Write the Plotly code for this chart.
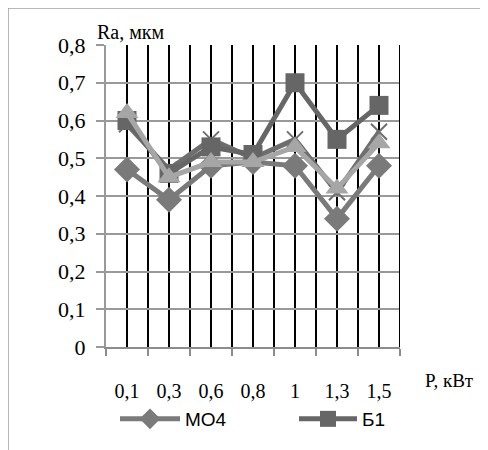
import plotly.graph_objects as go

categories = ["0,1", "0,3", "0,6", "0,8", "1", "1,3", "1,5"]
mo4 = [0.47, 0.39, 0.48, 0.49, 0.48, 0.34, 0.48]
b1 = [0.60, 0.46, 0.53, 0.51, 0.70, 0.55, 0.64]
s3 = [0.59, 0.47, 0.55, 0.50, 0.55, 0.41, 0.57]
s4 = [0.62, 0.45, 0.49, 0.49, 0.53, 0.42, 0.54]
y_ticks = [0, 0.1, 0.2, 0.3, 0.4, 0.5, 0.6, 0.7, 0.8]
y_labels = ["0", "0,1", "0,2", "0,3", "0,4", "0,5", "0,6", "0,7", "0,8"]

xs = list(range(len(categories)))
SERIF = "Liberation Serif, Times New Roman, serif"

# page offset (body margin 8px): plot area in page coords x 106..400, y 45..347
L, T, PW, PH = 98, 37, 294, 302

fig = go.Figure()
fig.add_trace(go.Scatter(x=xs, y=s3, mode="lines+markers", name="s3", showlegend=False,
                         line=dict(color="#6e6e6e", width=5),
                         marker=dict(symbol="x-thin", size=16, line=dict(color="#6e6e6e", width=2))))
fig.add_trace(go.Scatter(x=xs, y=mo4, mode="lines+markers", name="МО4", legend="legend",
                         line=dict(color="#7a7a7a", width=5),
                         marker=dict(symbol="diamond", size=20, color="#7a7a7a")))
fig.add_trace(go.Scatter(x=xs, y=b1, mode="lines+markers", name="Б1", legend="legend2",
                         line=dict(color="#666666", width=5),
                         marker=dict(symbol="square", size=19, color="#666666")))
fig.add_trace(go.Scatter(x=xs, y=s4, mode="lines+markers", name="s4", showlegend=False,
                         line=dict(color="#a6a6a6", width=5),
                         marker=dict(symbol="triangle-up", size=20, color="#a6a6a6")))


def px(xp):
    return (xp - 106) / PW


def py(yp):
    return (347 - yp) / PH


leg_font = dict(family="Liberation Sans, Arial, sans-serif", size=19, color="black")
fig.update_layout(
    width=488, height=450,
    margin=dict(l=L, r=488 - L - PW, t=T, b=450 - T - PH, autoexpand=False),
    paper_bgcolor="white", plot_bgcolor="white",
    font=dict(family=SERIF, color="black"),
    legend=dict(orientation="h", x=px(115), y=py(419), xanchor="left", yanchor="middle",
                font=leg_font, bgcolor="rgba(0,0,0,0)", itemwidth=60),
    legend2=dict(orientation="h", x=px(294), y=py(419), xanchor="left", yanchor="middle",
                 font=leg_font, bgcolor="rgba(0,0,0,0)", itemwidth=58),
    xaxis=dict(range=[-0.5, 6.5], tickvals=xs, ticktext=categories,
               showgrid=True, gridcolor="black", gridwidth=2,
               ticks="", tickfont=dict(family=SERIF, size=20),
               ticklabelstandoff=25,
               showline=True, linecolor="#8c8c8c", linewidth=2, mirror=False,
               zeroline=False,
               minor=dict(tick0=-0.5, dtick=1, showgrid=True, gridcolor="black", gridwidth=2,
                          ticks="outside", ticklen=7, tickcolor="#8c8c8c", tickwidth=2)),
    yaxis=dict(range=[0, 0.8], tickvals=y_ticks, ticktext=y_labels,
               showgrid=True, gridcolor="#999999", gridwidth=2,
               ticks="outside", ticklen=8, tickcolor="#999999", tickwidth=2,
               tickfont=dict(family=SERIF, size=22),
               ticklabelstandoff=6,
               showline=True, linecolor="#999999", linewidth=2, zeroline=False),
    shapes=[dict(type="rect", xref="paper", yref="paper", x0=px(8), x1=1.5, y0=-0.5, y1=py(8),
                 line=dict(color="#a0a0a0", width=1.5), fillcolor="rgba(0,0,0,0)", layer="below"),
            dict(type="line", xref="x", yref="paper", x0=6.5, x1=6.5, y0=0, y1=1,
                 line=dict(color="black", width=2))],
    annotations=[
        dict(text="Ra, мкм", xref="paper", yref="paper", x=px(131), y=py(32),
             showarrow=False, font=dict(family=SERIF, size=20), xanchor="center", yanchor="middle"),
        dict(text="P, кВт", xref="paper", yref="paper", x=px(449), y=py(380),
             showarrow=False, font=dict(family=SERIF, size=19), xanchor="center", yanchor="middle"),
    ],
)

fig.write_html("out.html")
